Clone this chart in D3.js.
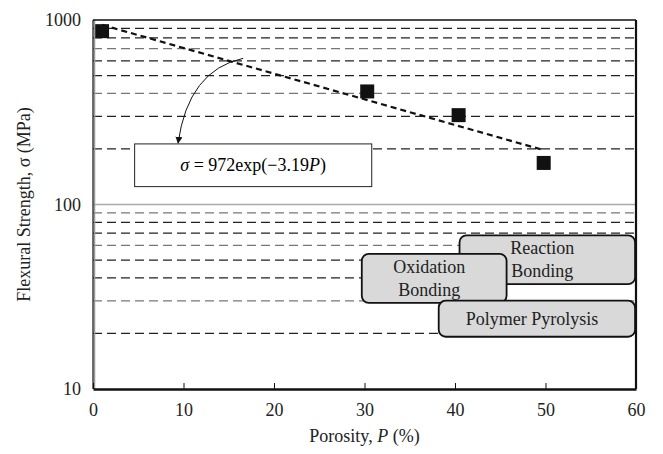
<!DOCTYPE html>
<html>
<head>
<meta charset="utf-8">
<script src="https://cdn.jsdelivr.net/npm/d3@7"></script>
<style>
  body { margin: 0; background: #fff; }
</style>
</head>
<body>
<svg id="chart" width="663" height="454"></svg>
<script>
// data
const porosity = [1, 30.3, 40.4, 49.8];
const strength = [870, 410, 305, 168];

// fit line sigma = 972 exp(-3.19 P), endpoints
const fitPorosity = [1, 49.5];
const fitStrength = [941, 199];

const xTicks = [0, 10, 20, 30, 40, 50, 60];
const yTicks = [10, 100, 1000];
const gridValues = [20, 30, 40, 50, 60, 70, 80, 90, 200, 300, 400, 500, 600, 700, 800, 900];

// labelled regions: name lines, P from/to, sigma low/high
const regionNames = [["Reaction", "Bonding"], ["Oxidation", "Bonding"], ["Polymer Pyrolysis"]];
const regionP = [[40.5, 59.9], [29.7, 45.7], [38.2, 59.9]];
const regionS = [[37, 68], [29.3, 54], [19.2, 30.1]];

const margin = { top: 20, right: 27, bottom: 65, left: 93 };
const width = 663, height = 454;
const serif = '"Liberation Serif", serif';

const svg = d3.select('#chart');

const x = d3.scaleLinear()
    .domain([0, 60])
    .range([margin.left, width - margin.right]);

const y = d3.scaleLog()
    .domain([10, 1000])
    .range([height - margin.bottom, margin.top]);

// dashed grid
svg.append('g')
    .selectAll('line')
    .data(gridValues)
    .join('line')
    .attr('x1', x(0))
    .attr('x2', x(60))
    .attr('y1', d => y(d))
    .attr('y2', d => y(d))
    .attr('stroke', (d, i) => i % 3 == 1 ? '#777' : '#222')
    .attr('stroke-width', 1.2)
    .attr('stroke-dasharray', '9,5');

// solid line at 100
svg.append('line')
    .attr('x1', x(0)).attr('x2', x(60))
    .attr('y1', y(100)).attr('y2', y(100))
    .attr('stroke', '#aaa')
    .attr('stroke-width', 1.5);

// fit line
svg.append('path')
    .datum(d3.zip(fitPorosity, fitStrength))
    .attr('fill', 'none')
    .attr('stroke', '#111')
    .attr('stroke-width', 2.2)
    .attr('stroke-dasharray', '6,4')
    .attr('d', d3.line().x(d => x(d[0])).y(d => y(d[1])));

// data squares
const sq = 14;
svg.append('g')
    .attr('fill', '#111')
    .selectAll('rect')
    .data(d3.zip(porosity, strength))
    .join('rect')
    .attr('x', d => x(d[0]) - sq / 2)
    .attr('y', d => y(d[1]) - sq / 2)
    .attr('width', sq)
    .attr('height', sq);

// arrow to equation box
svg.append('defs').append('marker')
    .attr('id', 'head')
    .attr('viewBox', '0 0 10 10')
    .attr('refX', 9).attr('refY', 5)
    .attr('markerWidth', 7).attr('markerHeight', 7)
    .attr('orient', 'auto')
    .append('path')
    .attr('d', 'M0,0L10,5L0,10Z')
    .attr('fill', '#111');

const a0 = [x(16.6), y(620)], a1 = [x(9.4), y(215)];
svg.append('path')
    .attr('d', `M${a0[0]},${a0[1]}Q${a0[0] - 55},${a0[1] + 12} ${a1[0]},${a1[1]}`)
    .attr('fill', 'none')
    .attr('stroke', '#111')
    .attr('stroke-width', 1)
    .attr('marker-end', 'url(#head)');

// equation box
const eqX0 = x(4.6), eqX1 = x(30.8), eqY0 = y(213), eqY1 = y(125);
svg.append('rect')
    .attr('x', eqX0).attr('y', eqY0)
    .attr('width', eqX1 - eqX0).attr('height', eqY1 - eqY0)
    .attr('fill', '#fff')
    .attr('stroke', '#222')
    .attr('stroke-width', 1);

const eq = svg.append('text')
    .attr('x', (eqX0 + eqX1) / 2)
    .attr('y', (eqY0 + eqY1) / 2 + 6)
    .attr('text-anchor', 'middle')
    .attr('font-size', 18);
eq.append('tspan').attr('font-style', 'italic').text('σ');
eq.append('tspan').text(' = 972exp(\u22123.19');
eq.append('tspan').attr('font-style', 'italic').text('P');
eq.append('tspan').text(')');

// region boxes
const regions = svg.append('g')
    .selectAll('g')
    .data(regionNames.map((n, i) => ({ name: n, p: regionP[i], s: regionS[i] })))
    .join('g');

regions.append('rect')
    .attr('x', d => x(d.p[0]))
    .attr('y', d => y(d.s[1]))
    .attr('width', d => x(d.p[1]) - x(d.p[0]))
    .attr('height', d => y(d.s[0]) - y(d.s[1]))
    .attr('rx', 7)
    .attr('fill', '#d9d9d9')
    .attr('stroke', '#111')
    .attr('stroke-width', 1.8);

regions.append('text')
    .attr('text-anchor', 'middle')
    .attr('font-size', 18)
    .attr('fill', '#222')
    .selectAll('tspan')
    .data(d => d.name.map((t, j) => ({ t, j, d })))
    .join('tspan')
    .attr('x', e => (x(e.d.p[0]) + x(e.d.p[1])) / 2 - 5)
    .attr('y', e => {
        const mid = (y(e.d.s[0]) + y(e.d.s[1])) / 2;
        const n = e.d.name.length;
        return mid + 6 + (e.j - (n - 1) / 2) * 23;
    })
    .text(e => e.t);

// axes frame
svg.append('line')
    .attr('x1', x(0) + 1.5).attr('x2', x(0) + 1.5)
    .attr('y1', y(1000)).attr('y2', y(10))
    .attr('stroke', '#999').attr('stroke-width', 1.5);
svg.append('line')
    .attr('x1', x(0)).attr('x2', x(0))
    .attr('y1', y(1000)).attr('y2', y(10))
    .attr('stroke', '#111').attr('stroke-width', 1.2);
svg.append('line')
    .attr('x1', x(0)).attr('x2', x(60))
    .attr('y1', y(1000)).attr('y2', y(1000))
    .attr('stroke', '#111').attr('stroke-width', 1.5);
svg.append('line')
    .attr('x1', x(60)).attr('x2', x(60))
    .attr('y1', y(1000)).attr('y2', y(10))
    .attr('stroke', '#111').attr('stroke-width', 2.2);

// x axis
const xAxis = svg.append('g')
    .attr('transform', 'translate(0,' + y(10) + ')')
    .call(d3.axisBottom(x).tickValues(xTicks).tickSize(-6).tickPadding(14).tickSizeOuter(0));
xAxis.select('.domain').attr('stroke', '#111').attr('stroke-width', 2.5);
xAxis.selectAll('.tick line').attr('stroke', '#111');
xAxis.selectAll('.tick text')
    .attr('font-size', 18)
    .attr('fill', '#222');

// y axis
const yAxis = svg.append('g')
    .attr('transform', 'translate(' + x(0) + ',0)')
    .call(d3.axisLeft(y).tickValues(yTicks).tickFormat(d3.format('d')).tickSize(0).tickPadding(12));
yAxis.select('.domain').remove();
yAxis.selectAll('.tick text')
    .attr('font-size', 18)
    .attr('fill', '#222');

// axis titles
const xt = svg.append('text')
    .attr('x', (x(0) + x(60)) / 2)
    .attr('y', 442)
    .attr('text-anchor', 'middle')
    .attr('font-size', 18)
    .attr('fill', '#222');
xt.append('tspan').text('Porosity, ');
xt.append('tspan').attr('font-style', 'italic').text('P');
xt.append('tspan').text(' (%)');

svg.append('text')
    .attr('transform', 'translate(30,' + y(100) + ') rotate(-90)')
    .attr('text-anchor', 'middle')
    .attr('font-size', 18)
    .attr('fill', '#222')
    .text('Flexural Strength, σ (MPa)');

// serif everywhere
svg.selectAll('text').style('font-family', serif);
</script>
</body>
</html>
